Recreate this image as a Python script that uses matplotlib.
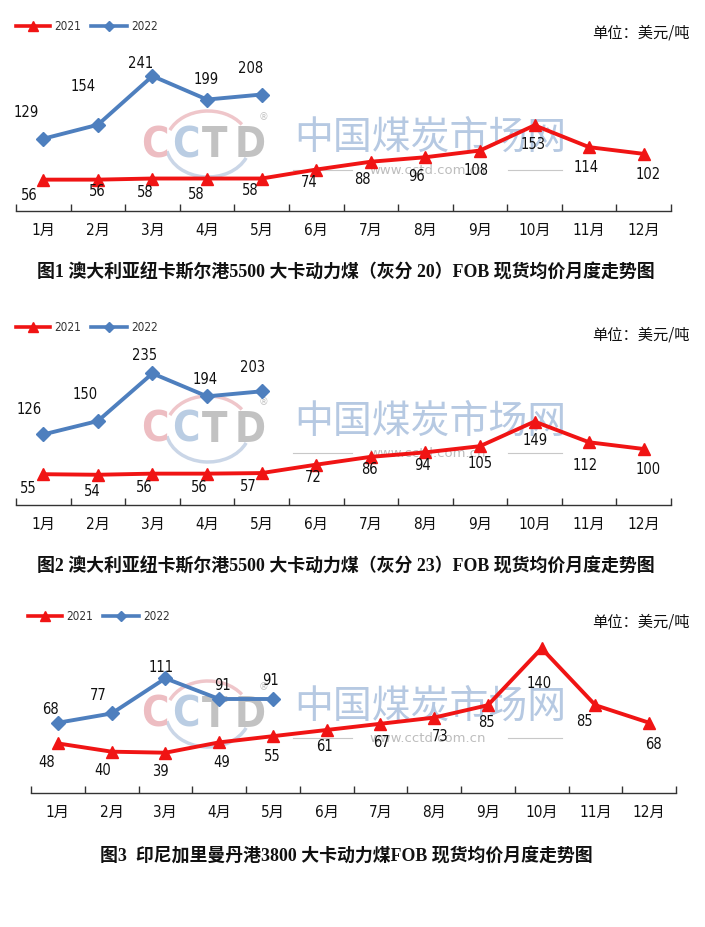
import numpy as np
import matplotlib
matplotlib.use("Agg")
import matplotlib.pyplot as plt
from matplotlib.patches import Arc

# ---------------- data ----------------
months = ["1月", "2月", "3月", "4月", "5月", "6月", "7月", "8月", "9月", "10月", "11月", "12月"]
series_names = ["2021", "2022"]

p1_2021 = [56, 56, 58, 58, 58, 74, 88, 96, 108, 153, 114, 102]
p1_2022 = [129, 154, 241, 199, 208]
p2_2021 = [55, 54, 56, 56, 57, 72, 86, 94, 105, 149, 112, 100]
p2_2022 = [126, 150, 235, 194, 203]
p3_2021 = [48, 40, 39, 49, 55, 61, 67, 73, 85, 140, 85, 68]
p3_2022 = [68, 77, 111, 91, 91]

titles = [
    "图1 澳大利亚纽卡斯尔港5500 大卡动力煤（灰分 20）FOB 现货均价月度走势图",
    "图2 澳大利亚纽卡斯尔港5500 大卡动力煤（灰分 23）FOB 现货均价月度走势图",
    "图3  印尼加里曼丹港3800 大卡动力煤FOB 现货均价月度走势图",
]
unit_text = "单位：美元/吨"

# ---------------- style ----------------
W, H = 705, 928
RED = "#F01414"
BLUE = "#4E7FBE"
NUM_FONT = ["DejaVu Sans"]
CJK_FONT = ["DejaVu Sans", "Noto Sans CJK SC"]
TITLE_FONT = ["Liberation Serif", "Noto Sans CJK SC"]

fig = plt.figure(figsize=(W / 100, H / 100), dpi=100)
fig.patch.set_facecolor("white")

# background overlay in pixel coordinates
bg = fig.add_axes([0, 0, 1, 1], zorder=0)
bg.set_xlim(0, W)
bg.set_ylim(H, 0)
bg.axis("off")

panels = [
    dict(L=16, R=671, B=212, s=0.56, ymax=270, d21=p1_2021, d22=p1_2022,
         off21=[(-14, 15), (-1, 11), (-7, 13), (-11, 15), (-11, 11), (-7, 12), (-8, 17), (-9, 18), (-4, 19), (-1, 18), (-3, 19), (4, 20)],
         off22=[(-17, -27), (-15, -39), (-12, -14), (-1, -21), (-11, -27)],
         leg_y=27, unit_y=33, title_y=273, wm=(138, 145, 171), leg_x=16),
    dict(L=16, R=671, B=506, s=0.56, ymax=260, d21=p2_2021, d22=p2_2022,
         off21=[(-15, 13), (-6, 16), (-8, 13), (-8, 13), (-13, 12), (-3, 12), (-1, 12), (-3, 12), (0, 16), (1, 18), (-4, 22), (4, 20)],
         off22=[(-14, -26), (-13, -27), (-8, -19), (-2, -18), (-9, -25)],
         leg_y=328, unit_y=335, title_y=567, wm=(422, 430, 454), leg_x=16),
    dict(L=31, R=676, B=794, s=1.033, ymax=150, d21=p3_2021, d22=p3_2022,
         off21=[(-11, 18), (-9, 18), (-5, 18), (3, 19), (-1, 19), (-2, 16), (1, 18), (6, 18), (-1, 16), (-3, 34), (-11, 15), (4, 21)],
         off22=[(-7, -14), (-13, -19), (-4, -12), (3, -14), (-2, -19)],
         leg_y=617, unit_y=622, title_y=857, wm=(707, 715, 739), leg_x=28),
]

x_all = np.arange(len(months))

for i, p in enumerate(panels):
    # ---------- watermark ----------
    cy_cn, cy_logo, cy_www = p["wm"]
    bg.text(430, cy_cn, "中国煤炭市场网", fontsize=28, color="#B6C9E2",
            family=["Noto Sans CJK SC"], ha="center", va="center", zorder=1)
    bg.add_patch(Arc((208, cy_logo), 84, 66, theta1=20, theta2=170, color="#CAD6E7", lw=2.5, zorder=1))
    bg.add_patch(Arc((208, cy_logo), 84, 66, theta1=200, theta2=330, color="#EFC6CA", lw=2.5, zorder=1))
    letters = [("C", "#EDBDC2", 155), ("C", "#BACDE3", 186), ("T", "#C2C2C2", 215), ("D", "#C2C2C2", 250)]
    for ch, col, xx in letters:
        bg.text(xx, cy_logo, ch, fontsize=30, color=col, family=["DejaVu Sans"],
                fontstretch="condensed", fontweight="bold", ha="center", va="center", zorder=1)
    bg.text(263, cy_logo - 28, "®", fontsize=7, color="#C4C4C4", ha="center", va="center", zorder=1)
    bg.plot([293, 352], [cy_www, cy_www], color="#C8C8C8", lw=0.8, zorder=1)
    bg.plot([508, 562], [cy_www, cy_www], color="#C8C8C8", lw=0.8, zorder=1)
    bg.text(428, cy_www, "www.cctd.com.cn", fontsize=9.5, color="#BDBDBD",
            family=["DejaVu Sans"], ha="center", va="center", zorder=1)

    # ---------- legend ----------
    lx, ly = p["leg_x"], p["leg_y"]
    bg.plot([lx, lx + 34], [ly, ly], color=RED, lw=2.6, zorder=3)
    bg.plot([lx + 17], [ly], marker="^", color=RED, ms=7, zorder=3)
    bg.text(lx + 38, ly, series_names[0], fontsize=8.5, color="#333333",
            family=["DejaVu Sans"], fontstretch="condensed", ha="left", va="center")
    bx = lx + 75
    bg.plot([bx, bx + 36], [ly, ly], color=BLUE, lw=2.6, zorder=3)
    bg.plot([bx + 18], [ly], marker="D", color=BLUE, ms=5, zorder=3)
    bg.text(bx + 40, ly, series_names[1], fontsize=8.5, color="#333333",
            family=["DejaVu Sans"], fontstretch="condensed", ha="left", va="center")

    # ---------- unit + title ----------
    bg.text(690, p["unit_y"], unit_text, fontsize=11, color="#111111",
            family=["Noto Sans CJK SC"], ha="right", va="center")
    bg.text(346, p["title_y"], titles[i], fontsize=12.9, fontweight="bold", color="#111111",
            family=TITLE_FONT, ha="center", va="center")

    # ---------- data axes ----------
    L, R, B, s, ymax = p["L"], p["R"], p["B"], p["s"], p["ymax"]
    ax = fig.add_axes([L / W, 1 - B / H, (R - L) / W, ymax * s / H], zorder=2)
    ax.patch.set_visible(False)
    ax.set_xlim(-0.5, len(months) - 0.5)
    ax.set_ylim(0, ymax)
    for side in ["top", "right", "left"]:
        ax.spines[side].set_visible(False)
    ax.spines["bottom"].set_color("#333333")
    ax.spines["bottom"].set_linewidth(1.0)
    ax.set_yticks([])
    ax.set_xticks(np.arange(-0.5, len(months), 1.0))
    ax.set_xticklabels([])
    ax.tick_params(axis="x", which="major", direction="in", length=5, width=1, color="#333333")
    ax.set_xticks(x_all, minor=True)
    ax.set_xticklabels(months, minor=True, fontsize=11, family=CJK_FONT,
                       fontstretch="condensed", color="#111111")
    ax.tick_params(axis="x", which="minor", length=0, pad=8)

    d21 = p["d21"]
    d22 = p["d22"]
    ax.plot(x_all[:len(d21)], d21, color=RED, lw=2.8, marker="^", ms=9,
            clip_on=False, zorder=3)
    ax.plot(x_all[:len(d22)], d22, color=BLUE, lw=2.8, marker="D", ms=7,
            clip_on=False, zorder=4)

    for xv, yv, (dx, dy) in zip(x_all, d21, p["off21"]):
        ax.annotate(str(yv), (xv, yv), xytext=(dx, -dy), textcoords="offset pixels",
                    ha="center", va="center", fontsize=10.5, family=NUM_FONT,
                    fontstretch="condensed", color="#111111",
                    annotation_clip=False, zorder=5)
    for xv, yv, (dx, dy) in zip(x_all, d22, p["off22"]):
        ax.annotate(str(yv), (xv, yv), xytext=(dx, -dy), textcoords="offset pixels",
                    ha="center", va="center", fontsize=10.5, family=NUM_FONT,
                    fontstretch="condensed", color="#111111",
                    annotation_clip=False, zorder=5)

fig.savefig("out.png", dpi=100, facecolor="white")
